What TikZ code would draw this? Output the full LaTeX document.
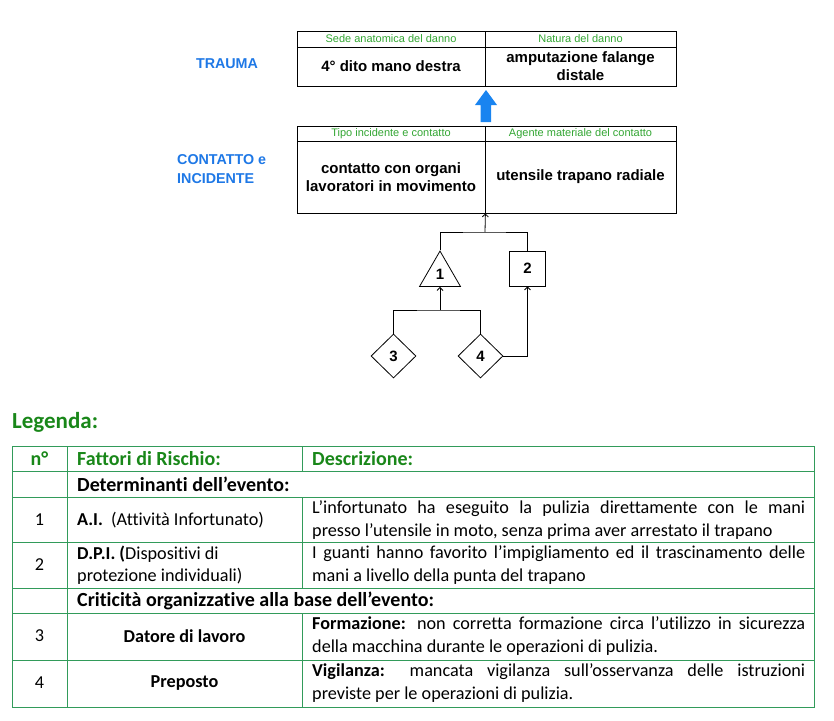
\documentclass[tikz,border=0pt]{standalone}
\usepackage{fontspec}
\setmainfont{Carlito}[Ligatures=NoCommon]
\newfontfamily\arialfont{Liberation Sans}
\usetikzlibrary{shapes.geometric,arrows.meta}

\definecolor{labelblue}{RGB}{30,120,230}
\definecolor{arrowblue}{RGB}{25,132,240}
\definecolor{headgreen}{RGB}{50,165,50}
\definecolor{textgreen}{RGB}{25,135,25}
\definecolor{linegreen}{RGB}{50,155,90}

\tikzset{
  cell/.style={draw, rectangle, inner sep=0pt, line width=0.8pt, align=center,
    font=\arialfont\bfseries\fontsize{15}{18}\selectfont},
  headcell/.style={cell, text=headgreen, font=\arialfont\fontsize{11}{12}\selectfont},
  level/.style={text=labelblue, align=left, inner sep=0pt,
    font=\arialfont\bfseries\fontsize{14.3}{19}\selectfont},
  factor/.style={draw, line width=0.8pt, inner sep=0pt,
    font=\arialfont\bfseries\fontsize{15}{18}\selectfont},
  tline/.style={draw=linegreen, line width=0.9pt},
  tabtext/.style={anchor=west, inner sep=0pt, font=\fontsize{18.2}{22.5}\selectfont},
  tabhead/.style={tabtext, text=textgreen, font=\bfseries\fontsize{20}{22}\selectfont},
  tabgroup/.style={tabtext, font=\bfseries\fontsize{20}{22}\selectfont},
  desc/.style={tabtext, text width=493pt, align=justify}
}

\begin{document}
\begin{tikzpicture}[x=1pt, y=-1pt, >={Straight Barb[length=3pt,width=6pt]}]
    \useasboundingbox (0,0) rectangle (834,720);

    % livelli
    \node[level] (trauma) at (227,64) {TRAUMA};
    \node[level, anchor=west] (incid) at (177,169.5) {CONTATTO e\\INCIDENTE};

    % trauma
    \node[headcell, minimum width=188pt, minimum height=16pt] (sede) at (391,39) {Sede anatomica del danno};
    \node[headcell, minimum width=191pt, minimum height=16pt] (natura) at (580.5,39) {Natura del danno};
    \node[cell, minimum width=188pt, minimum height=39pt] (dito) at (391,66.5) {4° dito mano destra};
    \node[cell, minimum width=191pt, minimum height=39pt] (amput) at (580.5,66.5) {amputazione falange\\distale};

    % freccia blu
    \fill[arrowblue] (480.5,122) -- (480.5,105) -- (475,105) -- (486,90) -- (497,105)
      -- (491,105) -- (491,122) -- cycle;

    % contatto e incidente
    \node[headcell, minimum width=188pt, minimum height=15pt] (tipo) at (391,133.5) {Tipo incidente e contatto};
    \node[headcell, minimum width=191pt, minimum height=15pt] (agente) at (580.5,133.5) {Agente materiale del contatto};
    \node[cell, minimum width=188pt, minimum height=72pt] (contatto) at (391,177) {contatto con organi\\lavoratori in movimento};
    \node[cell, minimum width=191pt, minimum height=72pt] (utensile) at (580.5,177) {utensile trapano radiale};

    % fattori
    \node[factor, regular polygon, regular polygon sides=3, minimum size=47.3pt] (f1) at (440,274.7) {1};
    \node[factor, rectangle, minimum width=36pt, minimum height=35pt] (f2) at (527.5,268.5) {2};
    \node[factor, diamond, minimum width=45pt, minimum height=44pt] (f3) at (393.5,356) {3};
    \node[factor, diamond, minimum width=45pt, minimum height=44pt] (f4) at (480.5,356) {4};

    \coordinate (j1) at (485,232);
    \coordinate (j2) at (440,310);

    % collegamenti
    \draw[line width=0.8pt] (f1.corner 1) |- (j1) -| (f2.north);
    \draw[line width=0.8pt, ->] (j1) -- (contatto.south east);
    \draw[line width=0.8pt] (f3.north) |- (j2) -| (f4.north);
    \draw[line width=0.8pt, ->] (j2) -- (f1.side 2);
    \draw[line width=0.8pt, ->] (f4.east) -| (f2.south);

    % legenda
    \node[anchor=west, inner sep=0pt, text=textgreen, font=\bfseries\fontsize{23}{26}\selectfont] (legenda) at (12,422) {Legenda:};

    \draw[tline] (12,446.5) rectangle (814,707.5);
    \foreach \y in {471,497,542,588,613,660}
      \draw[tline] (12,\y) -- (814,\y);
    \draw[tline] (67,446.5) -- (67,707.5);
    \draw[tline] (302,446.5) -- (302,471) (302,497) -- (302,588) (302,613) -- (302,707.5);

    \node[tabhead, anchor=center] (hn) at (39.5,459) {n°};
    \node[tabhead] (hfatt) at (77,459) {Fattori di Rischio:};
    \node[tabhead] (hdesc) at (312,459) {Descrizione:};

    \node[tabgroup] (determ) at (77,484) {Determinanti dell’evento:};

    \node[tabtext, anchor=center] (n1) at (39.5,520) {1};
    \node[tabtext] (r1) at (77,520) {\textbf{A.I.}\ \ (Attività Infortunato)};
    \node[desc] (d1) at (312,520) {L’infortunato ha eseguito la pulizia direttamente con le mani\linebreak presso l’utensile in moto, senza prima aver arrestato il trapano};

    \node[tabtext, anchor=center] (n2) at (39.5,565) {2};
    \node[tabtext, align=left] (r2) at (77,565) {\textbf{D.P.I. (}Dispositivi di\\protezione individuali)};
    \node[desc] (d2) at (312,565) {I guanti hanno favorito l’impigliamento ed il trascinamento delle\linebreak mani a livello della punta del trapano};

    \node[tabgroup] (critic) at (77,601) {Criticità organizzative alla base dell’evento:};

    \node[tabtext, anchor=center] (n3) at (39.5,636) {3};
    \node[tabtext, anchor=center, font=\bfseries\fontsize{18.2}{22.5}\selectfont] (r3) at (184.5,636) {Datore di lavoro};
    \node[desc] (d3) at (312,636) {\textbf{Formazione:} non corretta formazione circa l’utilizzo in sicurezza\linebreak della macchina durante le operazioni di pulizia.};

    \node[tabtext, anchor=center] (n4) at (39.5,683) {4};
    \node[tabtext, anchor=center, font=\bfseries\fontsize{18.2}{22.5}\selectfont] (r4) at (184.5,683) {Preposto};
    \node[desc] (d4) at (312,683) {\textbf{Vigilanza:} mancata vigilanza sull’osservanza delle istruzioni\linebreak previste per le operazioni di pulizia.};
  \end{tikzpicture}
\end{document}
